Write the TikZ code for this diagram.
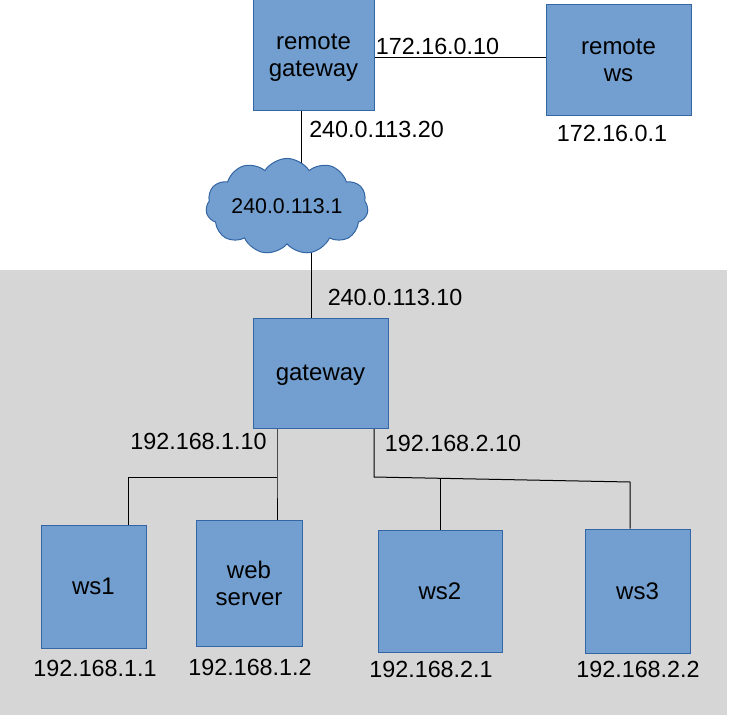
\documentclass[tikz,border=0pt]{standalone}
\usepackage{fontspec}
\setmainfont{Liberation Sans}
\usetikzlibrary{shapes.symbols}
\pgfdeclarelayer{bg}
\pgfdeclarelayer{wires}
\pgfsetlayers{bg,wires,main}
\definecolor{boxfill}{HTML}{729FCF}
\definecolor{boxline}{HTML}{3465A4}
\definecolor{zone}{HTML}{D6D6D6}
\tikzset{
  hostbox/.style={draw=boxline, fill=boxfill, line width=0.75pt, inner sep=0pt,
    align=center, text depth=0pt, font=\fontsize{18}{20.5}\selectfont},
  iplabel/.style={inner sep=0pt, font=\fontsize{17.5}{19}\selectfont},
  wire/.style={draw=black, line width=0.75pt},
}
\begin{document}
\begin{tikzpicture}[x=0.75pt, y=-0.75pt]
\useasboundingbox (0,0) rectangle (730,717);
\begin{pgfonlayer}{bg}
  \fill[zone] (0,270) rectangle (727,715);
\end{pgfonlayer}

% hosts
\node[hostbox, minimum width=121*0.75pt, minimum height=110*0.75pt] (rgw) at (313.5,55) {remote\\gateway};
\node[hostbox, minimum width=145*0.75pt, minimum height=110*0.75pt] (rws) at (618.5,60) {remote\\ws};
\node[cloud, cloud puffs=11, cloud puff arc=115, aspect=2.1, draw=boxline, fill=boxfill,
      line width=0.75pt, inner sep=0pt, minimum width=138*0.75pt, minimum height=68*0.75pt,
      font=\fontsize{16}{18}\selectfont] (cloud) at (287,206.5) {240.0.113.1};
\node[hostbox, minimum width=135*0.75pt, minimum height=110*0.75pt] (gw) at (320.5,373) {gateway};
\node[hostbox, minimum width=105*0.75pt, minimum height=123*0.75pt] (ws1) at (93.5,586.5) {ws1};
\node[hostbox, minimum width=106*0.75pt, minimum height=126*0.75pt] (web) at (249,583) {web\\server};
\node[hostbox, minimum width=124*0.75pt, minimum height=122*0.75pt] (ws2) at (440,591) {ws2};
\node[hostbox, minimum width=105*0.75pt, minimum height=124*0.75pt] (ws3) at (637.5,591) {ws3};

% labels
\node[iplabel] (l1) at (437.5,46) {172.16.0.10};
\node[iplabel] (l2) at (612,133) {172.16.0.1};
\node[iplabel] (l3) at (376.5,129) {240.0.113.20};
\node[iplabel] (l4) at (395,297) {240.0.113.10};
\node[iplabel] (l5) at (198.5,441) {192.168.1.10};
\node[iplabel] (l6) at (453,443) {192.168.2.10};
\node[iplabel] (l7) at (95,668) {192.168.1.1};
\node[iplabel] (l8) at (250,667) {192.168.1.2};
\node[iplabel] (l9) at (431,669) {192.168.2.1};
\node[iplabel] (l10) at (638,669) {192.168.2.2};

% junction points
\coordinate (jl) at (277,477);
\coordinate (jl1) at (128,477);
\coordinate (jr) at (374,477);
\coordinate (jr3) at (630,482);
\coordinate (jr2) at (440,478.3);

\begin{pgfonlayer}{wires}
  \draw[wire] (rgw.east |- 0,58) -- (rws.west |- 0,58);
  \draw[wire] (rgw.south -| 301,0) -- (cloud.center -| 301,0);
  \draw[wire] (cloud.center -| 311,0) -- (gw.north -| 311,0);
  \draw[wire] (gw.south -| jl) -- (jl) -- (web.north -| jl);
  \draw[wire] (jl) -- (jl1) -- (ws1.north -| jl1);
  \draw[wire] (gw.south -| jr) -- (jr) -- (jr3) -- (ws3.north -| jr3);
  \draw[wire] (jr2) -- (ws2.north);
\end{pgfonlayer}
\end{tikzpicture}
\end{document}
